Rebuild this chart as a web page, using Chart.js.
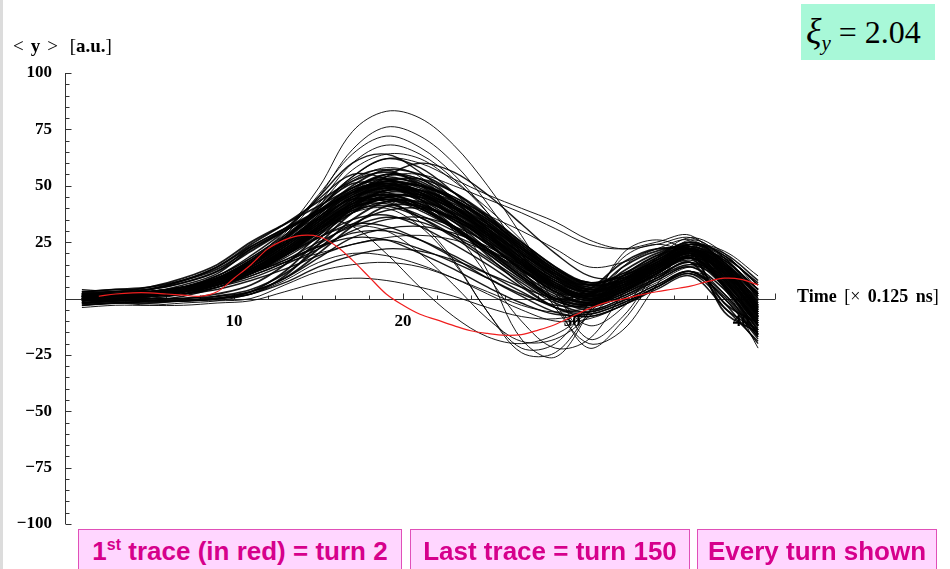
<!DOCTYPE html>
<html>
<head>
<meta charset="utf-8">
<script src="https://cdn.jsdelivr.net/npm/chart.js@4.4.1/dist/chart.umd.min.js"></script>
<style>
  body { margin: 0; width: 950px; height: 569px; overflow: hidden; position: relative; background: #fff; }
  #edge { position: absolute; left: 0; top: 0; width: 3px; height: 569px; background: #dcdcdc; }
  #ylabel { position: absolute; left: 13px; top: 35px; font: 19px "Liberation Serif", serif; white-space: pre; }
  #ylabel span { margin-right: 7px; }
  #xlabel { position: absolute; left: 797px; top: 286px; font: 18px "Liberation Serif", serif; white-space: pre; word-spacing: 3px; }
  #xi { position: absolute; left: 801px; top: 4px; width: 134px; height: 56px; background: #a8f8d8; }
  #xi div { position: absolute; left: 5px; top: 11px; font: 32px/32px "Liberation Serif", serif; white-space: pre; }
  #xi i { font-size: 36px; }
  #xi sub { font-style: italic; font-size: 21px; }
  .note { position: absolute; top: 529px; height: 50px; box-sizing: border-box; background: #ffd6ff;
          border: 1px solid #e050b8; color: #d6008c; font: bold 26px "Liberation Sans", Arial, sans-serif;
          text-align: center; line-height: 42px; white-space: pre; }
  .note sup { font-size: 16px; vertical-align: 10px; line-height: 0; }
</style>
</head>
<body>
<div id="edge"></div>
<canvas id="traces" width="950" height="569"></canvas>
<div id="ylabel"><span>&lt;</span><span><b>y</b></span><span>&gt;</span> [<b>a.u.</b>]</div>
<div id="xlabel"><b>Time</b> [× <b>0.125 ns</b>]</div>
<div id="xi"><div><i>ξ</i><sub>y</sub> = 2.04</div></div>
<div class="note" style="left:78px; width:324px;">1<sup>st</sup> trace (in red) = turn 2</div>
<div class="note" style="left:410px; width:280px;">Last trace = turn 150</div>
<div class="note" style="left:697px; width:240px;">Every turn shown</div>
<script>
// time samples (units of 0.125 ns) shared by the black traces
const sampleTimes = [1, 3, 5, 7, 9, 11, 13, 15, 17, 19, 21, 23, 25, 27, 29, 31, 33, 35, 37, 39, 41];

// turn 2, drawn in red
const firstTraceTimes = [2, 3, 4, 5, 6, 7, 8, 9, 10, 11, 12, 13, 14, 15, 16, 17, 18, 19, 20, 21,
                         22, 23, 24, 25, 26, 27, 28, 29, 30, 31, 32, 33, 34, 35, 36, 37, 38, 39, 40, 41];
const firstTraceValues = [1, 2, 2.5, 2.5, 2, 1.5, 1, 3, 9, 15, 22, 26, 28, 27.5, 23.5, 17, 9.5, 2, -3, -7,
                          -9.5, -12, -14.3, -15.5, -16.3, -16, -14, -11.5, -8, -4.5, -1.8, -0.3, 1.5, 3, 4.2, 5.5, 7.5, 9, 8.5, 6];

// main bundle of later turns
const mainTraces = [
  [1, 2, 2, 5, 10, 19, 30, 45, 60, 64, 56, 44, 30, 16, 6, 2, 8, 15, 22, 14, -6],
  [0, 1, 3, 4, 8, 16, 26, 40, 54, 62, 58, 47, 33, 19, 9, 4, 9, 17, 24, 18, 2],
  [-1, 1, 2, 4, 9, 17, 27, 40, 53, 57, 50, 40, 28, 15, 4, -2, 3, 11, 18, 8, -12],
  [2, 2, 3, 5, 9, 15, 24, 36, 48, 55, 53, 44, 33, 21, 11, 6, 11, 19, 25, 19, 6],
  [0, 1, 1, 3, 8, 16, 27, 40, 51, 50, 43, 34, 22, 10, 0, -5, 0, 8, 14, 2, -16],
  [1, 2, 2, 4, 7, 13, 21, 32, 44, 50, 48, 40, 30, 19, 9, 3, 7, 14, 21, 13, -4],
  [-2, 0, 1, 3, 7, 14, 23, 34, 45, 47, 41, 32, 21, 10, 1, -3, 2, 10, 16, 5, -14],
  [1, 1, 2, 4, 7, 12, 19, 28, 38, 45, 46, 41, 33, 23, 13, 7, 11, 18, 24, 20, 8],
  [0, 1, 2, 4, 8, 15, 24, 35, 44, 43, 36, 27, 17, 7, -2, -6, -1, 6, 12, 0, -18],
  [3, 2, 3, 5, 8, 13, 20, 29, 38, 43, 41, 35, 27, 17, 8, 3, 7, 14, 20, 12, -6],
  [-1, 0, 1, 2, 6, 12, 20, 30, 39, 41, 36, 28, 18, 8, -1, -4, 1, 8, 14, 4, -13],
  [1, 2, 2, 3, 6, 10, 16, 24, 33, 39, 40, 36, 29, 20, 11, 5, 9, 16, 23, 17, 4],
  [0, 1, 1, 3, 6, 11, 18, 27, 35, 37, 32, 24, 15, 5, -4, -7, -2, 5, 11, -2, -20],
  [2, 1, 2, 4, 7, 11, 17, 25, 32, 36, 34, 28, 21, 13, 5, 1, 5, 12, 18, 9, -8],
  [-2, -1, 0, 2, 6, 12, 19, 27, 33, 32, 26, 18, 9, 1, -6, -8, -3, 4, 10, -4, -19],
  [1, 0, 0, 0, 1, 3, 9, 18, 27, 31, 32, 29, 23, 15, 7, 3, 7, 13, 19, 13, 0],
  [0, 0, 1, 2, 5, 10, 16, 23, 29, 30, 26, 19, 11, 3, -4, -6, -1, 6, 12, 2, -15],
  [-1, 0, 1, 3, 6, 11, 17, 23, 27, 26, 20, 13, 5, -2, -7, -7, -2, 5, 11, 1, -17],
  [1, 1, 2, 3, 6, 11, 19, 30, 43, 54, 60, 56, 46, 33, 20, 10, 9, 14, 21, 18, 7],
  [2, 3, 3, 6, 11, 22, 31, 44, 55, 53, 44, 32, 19, 6, -4, -8, -3, 5, 12, 0, -17],
  [0, 1, 2, 3, 7, 13, 22, 33, 42, 44, 39, 31, 22, 12, 5, 2, 8, 16, 24, 19, 6],
  [1, 1, 2, 2, 4, 8, 13, 19, 24, 26, 22, 16, 9, 2, -3, -3, 2, 9, 15, 7, -10],
  [0, -1, -1, -1, 0, 2, 7, 14, 19, 22, 21, 17, 11, 5, 0, -1, 4, 11, 18, 12, -5],
  [3, 4, 4, 7, 12, 23, 31, 38, 47, 51, 47, 39, 29, 18, 8, 3, 8, 16, 23, 16, 1],
  [-3, -2, -1, 1, 5, 11, 20, 31, 41, 45, 40, 31, 20, 9, 0, -3, 3, 11, 17, 6, -11],
  [2, 1, 2, 4, 8, 14, 23, 33, 41, 42, 37, 30, 22, 14, 6, 1, 4, 10, 16, 8, -9],
  [0, 2, 3, 5, 9, 16, 25, 37, 49, 54, 50, 41, 30, 18, 7, 0, 4, 12, 19, 11, -7],
  [-1, 0, 1, 2, 5, 9, 15, 22, 30, 35, 36, 32, 25, 16, 7, 1, 5, 12, 19, 14, 3]
];

// dense core of the bundle
const coreTraces = [
  [2, 2, 4, 8, 14, 23, 31, 39, 47, 52, 49, 41, 31, 20, 10, 4, 8, 16, 23, 15, -3],
  [-2, -1, -1, -1, 0, 3, 12, 26, 40, 48, 45, 37, 27, 15, 5, 0, 5, 13, 20, 10, -9],
  [1, 2, 3, 5, 10, 18, 28, 39, 49, 53, 47, 37, 25, 12, 0, 4, 16, 22, 20, 5, -14],
  [0, 1, 2, 3, 6, 12, 20, 31, 42, 49, 48, 42, 33, 22, 12, 6, 9, 16, 22, 15, 2],
  [3, 3, 5, 9, 15, 25, 33, 41, 49, 55, 52, 43, 31, 18, 7, 1, 5, 14, 21, 11, -8],
  [-1, 0, 2, 4, 8, 14, 23, 34, 45, 51, 50, 44, 35, 24, 13, 6, 8, 15, 21, 12, -5],
  [1, 1, 1, 3, 7, 13, 21, 31, 40, 44, 40, 32, 22, 11, 2, -2, 4, 12, 19, 9, -10],
  [0, 2, 3, 5, 9, 17, 27, 38, 47, 50, 44, 35, 24, 13, 3, 2, 14, 21, 22, 6, -16],
  [2, 3, 4, 7, 12, 21, 30, 38, 46, 52, 53, 47, 37, 25, 14, 7, 10, 17, 24, 17, 4],
  [-3, -2, -2, -1, 0, 2, 10, 24, 38, 46, 44, 37, 27, 16, 6, 1, 6, 14, 21, 13, -4],
  [1, 0, 1, 3, 7, 13, 22, 33, 44, 49, 45, 36, 25, 13, 3, -3, 1, 9, 16, -4, -14],
  [0, 1, 2, 4, 9, 16, 26, 38, 50, 57, 55, 47, 36, 23, 11, 4, 7, 15, 22, 13, -6],
  [2, 2, 3, 4, 7, 12, 19, 29, 39, 45, 45, 40, 32, 22, 12, 5, 8, 15, 22, 16, 2],
  [-1, 1, 2, 4, 8, 15, 24, 34, 43, 46, 41, 32, 21, 10, 0, -2, 10, 19, 21, -6, -15],
  [1, 2, 2, 3, 6, 11, 19, 30, 41, 48, 48, 43, 34, 23, 12, 4, 6, 13, 20, 11, -7],
  [0, 0, 1, 3, 8, 15, 24, 35, 45, 49, 46, 38, 28, 17, 6, 0, 4, 12, 19, 8, -11],
  [2, 2, 4, 8, 14, 24, 33, 43, 52, 56, 51, 41, 29, 16, 5, -1, 3, 11, 18, 6, -12],
  [-2, -2, -1, -1, 1, 4, 11, 22, 35, 43, 43, 38, 30, 20, 10, 3, 6, 14, 21, 14, -1],
  [1, 1, 2, 4, 7, 13, 21, 31, 41, 47, 46, 40, 31, 20, 9, 2, 5, 13, 20, 10, -8],
  [0, 2, 2, 4, 9, 17, 27, 38, 48, 51, 46, 37, 26, 14, 4, 1, 12, 20, 23, 9, -12],
  [1, 0, 1, 3, 6, 12, 20, 30, 40, 44, 42, 35, 26, 15, 5, 0, 5, 13, 20, 12, -5],
  [3, 4, 5, 8, 13, 22, 30, 39, 47, 52, 50, 44, 35, 24, 13, 7, 10, 18, 25, 16, -2],
  [-1, -1, 0, 0, 2, 6, 15, 28, 40, 45, 40, 31, 20, 9, -1, -3, 8, 17, 22, 5, -16],
  [0, 1, 2, 4, 8, 14, 22, 32, 42, 48, 47, 41, 32, 21, 11, 4, 7, 15, 22, 14, -3],
  [2, 2, 2, 4, 8, 15, 25, 36, 46, 51, 48, 40, 29, 17, 6, 0, 3, 11, 18, 7, -10],
  [-2, -1, 1, 3, 7, 13, 21, 32, 43, 50, 50, 45, 36, 25, 14, 6, 8, 15, 22, 13, -4],
  [1, 1, 2, 3, 6, 12, 21, 32, 42, 46, 42, 34, 24, 13, 3, -2, 3, 11, 18, -2, -11],
  [0, 2, 3, 5, 9, 16, 25, 36, 47, 53, 51, 44, 34, 22, 10, 3, 6, 14, 21, 11, -7],
  [1, 0, -1, -1, 0, 3, 9, 20, 32, 41, 41, 36, 28, 18, 8, 2, 6, 14, 21, 15, 1],
  [-1, 1, 2, 4, 8, 15, 24, 35, 45, 50, 47, 39, 28, 16, 5, -1, 3, 11, 18, 6, -12]
];

// turns with a deep dip after the peak
const deepTraces = [
  [1, 2, 3, 5, 9, 16, 26, 40, 52, 58, 54, 38, 12, -18, -26, -6, 20, 26, 20, 5, -12],
  [0, 1, 2, 4, 8, 15, 25, 36, 44, 44, 34, 17, -6, -22, -20, -2, 18, 24, 19, 6, -10],
  [-1, 0, 1, 3, 6, 12, 20, 30, 38, 40, 32, 16, -6, -24, -24, -6, 14, 22, 21, 9, -6],
  [1, 2, 2, 3, 8, 16, 27, 35, 32, 20, 5, -8, -17, -20, -16, -6, 6, 14, 20, 14, -3],
  [0, 1, 1, 2, 5, 11, 19, 27, 32, 30, 20, 6, -9, -19, -18, -8, 5, 15, 21, 15, -2],
  [2, 1, 2, 4, 7, 14, 24, 37, 48, 51, 44, 30, 10, -10, -22, -18, 2, 18, 24, 12, -8]
];

// highest peaks
const highTraces = [
  [1, 2, 3, 5, 9, 17, 30, 49, 74, 83, 80, 68, 50, 28, 4, -18, -8, 12, 25, 15, -6],
  [0, 1, 2, 4, 8, 16, 28, 45, 66, 76, 72, 60, 42, 20, -2, -22, -10, 10, 24, 14, -8],
  [2, 2, 3, 5, 10, 18, 29, 46, 64, 72, 67, 55, 38, 18, -4, -20, -14, 6, 22, 16, -4],
  [1, 1, 2, 4, 8, 15, 26, 42, 60, 68, 64, 53, 38, 20, 2, -12, -4, 14, 26, 18, 0],
  [-1, 1, 2, 4, 8, 15, 26, 41, 57, 64, 62, 52, 40, 26, 10, -3, 4, 18, 27, 20, 4]
];

// slow decay into the second bump
const slowTraces = [
  [1, 2, 3, 5, 9, 16, 27, 41, 54, 62, 60, 53, 46, 40, 34, 26, 22, 24, 27, 18, 2],
  [0, 1, 2, 4, 7, 13, 22, 34, 46, 54, 55, 50, 44, 38, 31, 24, 22, 25, 28, 14, -3],
  [1, 1, 2, 4, 8, 14, 23, 35, 47, 55, 53, 45, 37, 30, 22, 14, 16, 22, 26, 16, 0]
];

// small amplitude turns
const lowTraces = [
  [0, -1, -2, -1, -1, 0, 6, 12, 15, 16, 14, 9, 3, -3, -6, -4, 2, 9, 15, 11, -6],
  [-3, -2, -3, -3, -2, -1, 3, 7, 9, 8, 5, 1, -4, -8, -9, -6, 0, 7, 14, 10, -8],
  [-4, -3, -3, -2, -1, 2, 8, 16, 20, 19, 15, 9, 2, -5, -10, -9, -3, 5, 12, 4, -22],
  [4, 3, 3, 5, 8, 12, 16, 20, 24, 27, 28, 26, 21, 15, 9, 6, 10, 17, 24, 21, 10]
];

const yTickValues = [-100, -75, -50, -25, 25, 50, 75, 100];
const xTickLabels = [10, 20, 30, 40];

const tickFont = { family: 'Liberation Serif', size: 17, weight: 'bold' };

function toPoints(times, values) {
  return values.map((v, i) => ({ x: times[i], y: v }));
}

const datasets = [{
  data: toPoints(firstTraceTimes, firstTraceValues),
  borderColor: 'rgb(240,30,30)',
  borderWidth: 1.2
}];
const groups = [
  [mainTraces, 1.4], [coreTraces, 1.8], [deepTraces, 1], [highTraces, 1], [slowTraces, 1], [lowTraces, 1]
];
groups.forEach(([group, width]) => {
  group.forEach(values => {
    datasets.push({
      data: toPoints(sampleTimes, values),
      borderColor: 'rgba(0,0,0,0.9)',
      borderWidth: width
    });
  });
});

// axis lines and inner tick marks, positioned through the chart scales
const axisMarks = {
  id: 'axisMarks',
  beforeDatasetsDraw(chart) {
    const { ctx, scales: { x, y } } = chart;
    const x0 = Math.round(x.getPixelForValue(0)) + 0.5;
    const y0 = Math.round(y.getPixelForValue(0)) + 0.5;
    ctx.save();
    ctx.strokeStyle = '#333';
    ctx.lineWidth = 1;
    ctx.beginPath();
    ctx.moveTo(x0, y.getPixelForValue(100));
    ctx.lineTo(x0, y.getPixelForValue(-100));
    for (let v = -100; v <= 100; v += 5) {
      const py = Math.round(y.getPixelForValue(v)) + 0.5;
      ctx.moveTo(x0, py);
      ctx.lineTo(x0 + (v % 25 === 0 ? 6 : 4), py);
    }
    ctx.moveTo(x0, y0);
    ctx.lineTo(x.getPixelForValue(42), y0);
    for (let t = 2; t <= 42; t += 2) {
      const px = Math.round(x.getPixelForValue(t)) + 0.5;
      ctx.moveTo(px, y0);
      ctx.lineTo(px, y0 - (t % 10 === 0 || t === 42 ? 6 : 4));
    }
    ctx.stroke();
    ctx.restore();
  }
};

new Chart(document.getElementById('traces'), {
  type: 'line',
  data: { datasets },
  options: {
    responsive: false,
    animation: false,
    layout: { padding: { left: 0, top: 73, right: 175, bottom: 45 } },
    elements: { point: { radius: 0 }, line: { tension: 0.35 } },
    plugins: { legend: { display: false }, tooltip: { enabled: false } },
    scales: {
      x: {
        type: 'linear',
        min: 0,
        max: 42,
        position: { y: 0 },
        grid: { display: false, drawTicks: false },
        border: { display: false },
        afterBuildTicks: scale => { scale.ticks = xTickLabels.map(v => ({ value: v })); },
        ticks: { font: tickFont, color: '#000', padding: 13, autoSkip: false, maxRotation: 0 }
      },
      y: {
        min: -100,
        max: 100,
        grid: { display: false, drawTicks: false },
        border: { display: false },
        afterFit: scale => { scale.width = 65; },
        afterBuildTicks: scale => { scale.ticks = yTickValues.map(v => ({ value: v })); },
        ticks: {
          font: tickFont,
          color: '#000',
          padding: 13,
          callback: v => (v < 0 ? '\u2212' + Math.abs(v) : String(v))
        }
      }
    }
  },
  plugins: [axisMarks]
});
</script>
</body>
</html>
